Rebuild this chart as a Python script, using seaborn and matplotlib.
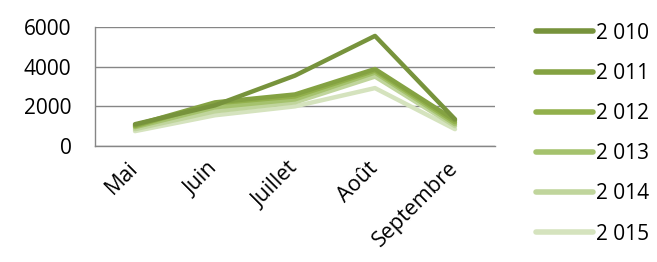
import numpy as np
import pandas as pd
import seaborn as sns
import matplotlib.pyplot as plt
from matplotlib.lines import Line2D

# Data
months = ['Mai', 'Juin', 'Juillet', 'Août', 'Septembre']
years = ['2 010', '2 011', '2 012', '2 013', '2 014', '2 015']
v2010 = [1100, 2050, 3550, 5550, 1350]
v2011 = [1050, 2200, 2600, 3880, 1300]
v2012 = [1000, 2150, 2500, 3800, 1200]
v2013 = [950, 1950, 2350, 3700, 1100]
v2014 = [850, 1750, 2200, 3500, 1000]
v2015 = [750, 1550, 2000, 2920, 850]
colors = ['#77933C', '#84A242', '#92B04C', '#A5C26D', '#C0D59C', '#D5E3BE']

series = [v2010, v2011, v2012, v2013, v2014, v2015]
df = pd.DataFrame({
    'mois': months * len(years),
    'annee': np.repeat(years, len(months)),
    'valeur': np.concatenate(series),
})

sns.set_style('white')
plt.rcParams['font.family'] = ['Open Sans', 'DejaVu Sans']
plt.rcParams['text.color'] = 'black'
plt.rcParams['xtick.color'] = 'black'
plt.rcParams['ytick.color'] = 'black'

fig = plt.figure(figsize=(6.57, 2.62), dpi=100)
ax = fig.add_axes([0.1446, 0.4427, 0.6088, 0.4543])

# draw lightest first so darker lines sit on top
sns.lineplot(data=df, x='mois', y='valeur', hue='annee', hue_order=years[::-1],
             palette=colors[::-1], linewidth=3.2, sort=False, legend=False, ax=ax)

ax.set_xlim(-0.5, 4.5)
ax.set_ylim(0, 6000)
ax.set_yticks([0, 2000, 4000, 6000])
ax.grid(axis='y', color='#868686', linewidth=1)
ax.set_axisbelow(True)
for s in ['top', 'right']:
    ax.spines[s].set_visible(False)
for s in ['left', 'bottom']:
    ax.spines[s].set_color('#868686')
    ax.spines[s].set_linewidth(1)
ax.set_xlabel('')
ax.set_ylabel('')
ax.tick_params(axis='y', length=0, pad=17, labelsize=15, labelcolor='black')
ax.tick_params(axis='x', length=0, pad=14, labelsize=15.5, labelcolor='black')
plt.setp(ax.get_xticklabels(), rotation=45, ha='right', va='center',
         rotation_mode='anchor')

handles = [Line2D([0], [0], color=c, linewidth=4, solid_capstyle='round') for c in colors]
fig.legend(handles, years, loc='upper left', bbox_to_anchor=(0.803, 0.945),
           frameon=False, fontsize=15, handlelength=2.75, handletextpad=0.15,
           labelspacing=0.92, borderaxespad=0)

fig.savefig('out.png', dpi=100)
